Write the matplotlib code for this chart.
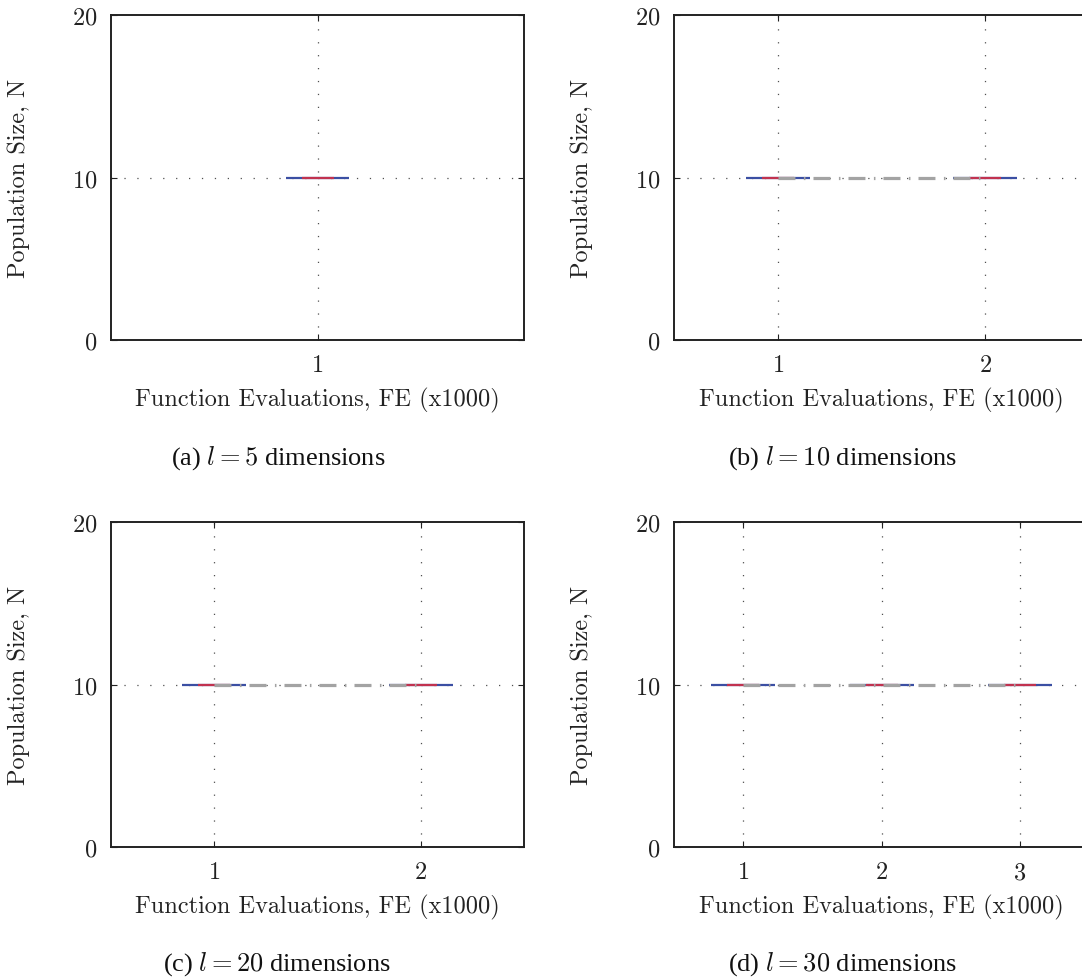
import matplotlib
matplotlib.use("Agg")
import matplotlib.pyplot as plt

plt.rcParams['font.family'] = ['cmr10', 'DejaVu Serif']
plt.rcParams['axes.formatter.use_mathtext'] = True
plt.rcParams['mathtext.fontset'] = 'cm'
plt.rcParams['lines.scale_dashes'] = False

# Population size recorded at each checkpoint (x1000 function evaluations)
dims_a = 5
fe_a = [1]
pop_a = [10]

dims_b = 10
fe_b = [1, 2]
pop_b = [10, 10]

dims_c = 20
fe_c = [1, 2]
pop_c = [10, 10]

dims_d = 30
fe_d = [1, 2, 3]
pop_d = [10, 10, 10]

panel_letters = ['a', 'b', 'c', 'd']
y_ticks = [0, 10, 20]

W, H = 1082, 978
fig = plt.figure(figsize=(W / 100, H / 100), dpi=100)

BLUE = '#3b4fa3'
RED = '#c1324f'
GRAY = '#a3a3a3'
GRID = '#505050'
BOX_HALF_PX = 32
MED_HALF_PX = 16
FS = 17.5


def fig_rect(left, top, width, height):
    return [left / W, 1 - (top + height) / H, width / W, height / H]


def draw_panel(rect, fe, pop, letter, dims, cap_x, cap_y):
    ax = fig.add_axes(rect)
    n = len(fe)
    ax.set_xlim(0.5, n + 0.5)
    ax.set_ylim(0, 20)
    ax.set_xticks(fe)
    ax.set_yticks(y_ticks)
    ax.tick_params(direction='in', length=4, width=0.8, top=True, right=True,
                   labelsize=FS, pad=10, colors='#222222')
    ax.tick_params(axis='y', pad=10)
    for s in ax.spines.values():
        s.set_linewidth(1.4)
        s.set_color('#222222')
    # dotted grid at ticks
    for x in fe:
        ax.axvline(x, color=GRID, lw=0.9, ls=(0, (0.9, 8.4)), zorder=1)
    ax.axhline(10, color=GRID, lw=0.9, ls=(0, (0.9, 8.4)), zorder=1)

    px_per_unit = rect[2] * W / (n)
    bh = BOX_HALF_PX / px_per_unit
    mh = MED_HALF_PX / px_per_unit
    for x, y in zip(fe, pop):
        ax.plot([x - bh, x + bh], [y, y], color=BLUE, lw=1.6,
                solid_capstyle='butt', zorder=3)
        ax.plot([x - mh, x + mh], [y, y], color=RED, lw=1.6,
                solid_capstyle='butt', zorder=4)
    if n > 1:
        ax.plot(fe, pop, color=GRAY, lw=2.3, dash_capstyle='butt',
                ls=(0, (12.2, 6.1, 1.1, 5.8)), zorder=5)

    ax.set_xlabel('Function Evaluations, FE (x1000)', fontsize=FS,
                  labelpad=8, color='#222222')
    ax.set_ylabel('Population Size, N', fontsize=FS, labelpad=30,
                  color='#222222')
    fig.text(cap_x / W, 1 - cap_y / H,
             '(%s) $l = %d$ dimensions' % (letter, dims),
             family=['Liberation Serif'], fontsize=19, ha='center',
             va='center', color='#111111')
    return ax


draw_panel(fig_rect(111, 16, 413, 325), fe_a, pop_a, panel_letters[0], dims_a, 278, 458)
draw_panel(fig_rect(674, 16, 415, 325), fe_b, pop_b, panel_letters[1], dims_b, 843, 458)
draw_panel(fig_rect(111, 523, 413, 325), fe_c, pop_c, panel_letters[2], dims_c, 277, 964)
draw_panel(fig_rect(674, 523, 415, 325), fe_d, pop_d, panel_letters[3], dims_d, 843, 964)

fig.savefig('out.png', dpi=100)
